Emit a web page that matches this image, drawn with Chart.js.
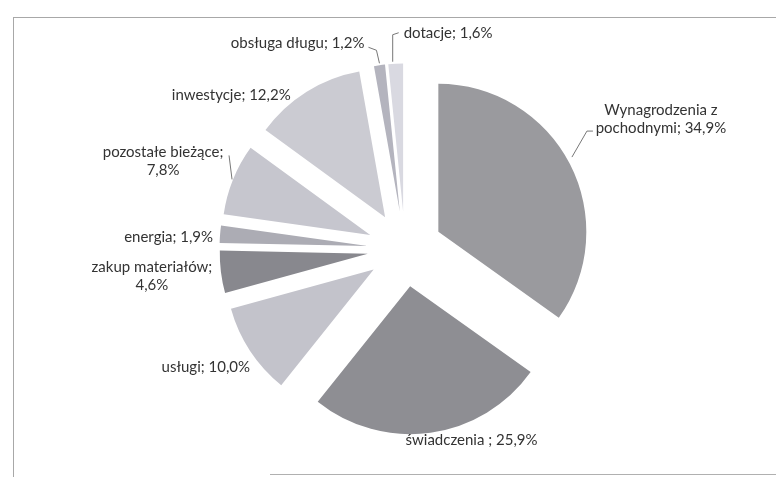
<!DOCTYPE html>
<html>
<head>
<meta charset="utf-8">
<script src="https://cdn.jsdelivr.net/npm/chart.js@4.4.1/dist/chart.umd.min.js"></script>
<style>
  html, body { margin: 0; padding: 0; background: #ffffff; }
  #wrap { position: relative; width: 776px; height: 477px; overflow: hidden; }
  #frame { position: absolute; left: 13px; top: 17px; width: 780px; height: 470px;
           border-left: 1px solid #a8a8a8; border-top: 1px solid #a8a8a8; }
  #bottomLine { position: absolute; left: 270px; top: 474px; width: 520px; height: 0;
                border-top: 1px solid #b0b0b0; }
  canvas { position: absolute; left: 0; top: 0; }
</style>
</head>
<body>
<div id="wrap">
  <div id="frame"></div>
  <div id="bottomLine"></div>
  <canvas id="pie" width="776" height="477"></canvas>
</div>
<script>
// data
const categories = ['Wynagrodzenia z pochodnymi', 'świadczenia ', 'usługi', 'zakup materiałów',
  'energia', 'pozostałe bieżące', 'inwestycje', 'obsługa długu', 'dotacje'];
const shares = [34.9, 25.9, 10.0, 4.6, 1.9, 7.8, 12.2, 1.2, 1.6];
const sliceColors = ['#9a9a9e', '#8e8e93', '#c3c3cb', '#88888e', '#acacb4',
  '#c6c6ce', '#cbcbd2', '#b4b4be', '#d9d9e1'];

// label text lines, as in the original
const labelLines = [
  ['Wynagrodzenia z', 'pochodnymi; 34,9%'],
  ['świadczenia ; 25,9%'],
  ['usługi; 10,0%'],
  ['zakup materiałów;', '4,6%'],
  ['energia; 1,9%'],
  ['pozostałe bieżące;', '7,8%'],
  ['inwestycje; 12,2%'],
  ['obsługa długu; 1,2%'],
  ['dotacje; 1,6%']
];

// label placement relative to the outer middle of each slice
const labelLayout = [
  { dx: 91, dy: -54, align: 'center', leader: [[2, -7], [17, -33], [23, -33]] },
  { dx: 41, dy: 7, align: 'center' },
  { dx: 0, dy: 16, align: 'right' },
  { dx: -69, dy: -5, align: 'center' },
  { dx: -7, dy: 3, align: 'right' },
  { dx: -70, dy: -27, align: 'center', leader: [[-1, 0], [-4, -24]] },
  { dx: -16, dy: 3, align: 'right' },
  { dx: -15, dy: -22, align: 'right', leader: [[0, -2], [-3, -15], [-11, -18]] },
  { dx: 8, dy: -31, align: 'left', leader: [[-3, -2], [-3, -29], [3, -31]] }
];

const EXPLODE = 37.5;

const explodePlugin = {
  id: 'explode',
  afterDatasetUpdate(chart, args) {
    args.meta.data.forEach(arc => {
      const mid = (arc.startAngle + arc.endAngle) / 2;
      arc.x += Math.cos(mid) * EXPLODE;
      arc.y += Math.sin(mid) * EXPLODE;
    });
  }
};

const labelPlugin = {
  id: 'sliceLabels',
  afterDatasetsDraw(chart) {
    const ctx = chart.ctx;
    const meta = chart.getDatasetMeta(0);
    ctx.save();
    ctx.font = '15px Lato';
    ctx.fillStyle = '#333333';
    ctx.strokeStyle = '#777777';
    ctx.lineWidth = 1;
    ctx.textBaseline = 'middle';
    meta.data.forEach((arc, i) => {
      const mid = (arc.startAngle + arc.endAngle) / 2;
      const ax = arc.x + Math.cos(mid) * arc.outerRadius;
      const ay = arc.y + Math.sin(mid) * arc.outerRadius;
      const lay = labelLayout[i];
      if (lay.leader) {
        ctx.beginPath();
        lay.leader.forEach((p, k) => {
          if (k === 0) ctx.moveTo(ax + p[0], ay + p[1]);
          else ctx.lineTo(ax + p[0], ay + p[1]);
        });
        ctx.stroke();
      }
      ctx.textAlign = lay.align;
      labelLines[i].forEach((line, k) => {
        ctx.fillText(line, ax + lay.dx, ay + lay.dy + k * 18);
      });
    });
    ctx.restore();
  }
};

new Chart(document.getElementById('pie'), {
  type: 'pie',
  data: {
    labels: categories,
    datasets: [{
      data: shares,
      backgroundColor: sliceColors,
      borderWidth: 0,
      radius: 148
    }]
  },
  options: {
    responsive: false,
    animation: false,
    layout: { padding: { left: 34, right: 0, top: 21, bottom: 0 } },
    plugins: {
      legend: { display: false },
      tooltip: { enabled: false }
    }
  },
  plugins: [explodePlugin, labelPlugin]
});
</script>
</body>
</html>
